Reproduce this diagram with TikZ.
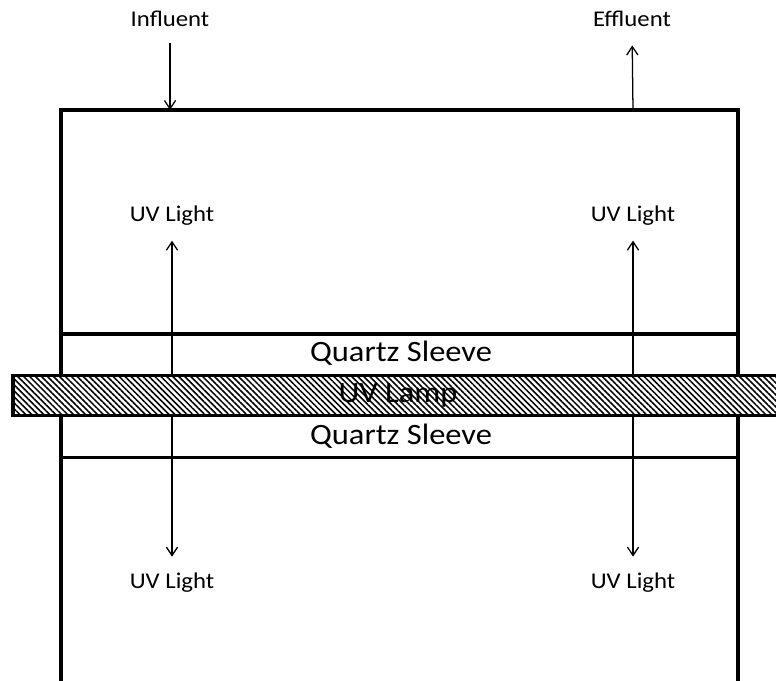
\documentclass[tikz,border=0pt]{standalone}
\usepackage{fontspec}
\setmainfont{Carlito}[FakeStretch=1.1]
\usetikzlibrary{arrows.meta,patterns.meta}

\tikzset{
  wall/.style={line width=2.5pt},
  ray/.style={line width=0.9pt, -{Straight Barb[length=6pt,width=8pt]}},
  tag/.style={font=\fontsize{16}{19}\selectfont, anchor=base, inner sep=0pt},
  sleevetag/.style={font=\fontsize{21}{25}\selectfont, anchor=base, inner sep=0pt}
}

\begin{document}
\begin{tikzpicture}[x=0.025cm, y=-0.025cm]
\useasboundingbox (0,0) rectangle (776,681);

% reactor vessel and quartz sleeve
\draw[wall] (61,110) rectangle (738,682.5);
\draw[wall] (61,334) -- (738,334);
\draw[wall] (61,457.5) -- (738,457.5);

\coordinate (inlet) at (170,110);
\coordinate (outlet) at (633,110);
\coordinate (lampL) at (172,395);
\coordinate (lampR) at (633,395);

\node[tag] (influent) at (170,27) {Influent};
\node[tag] (effluent) at (632,27) {Effluent};
\node[tag] (uvtl) at (172,222) {UV Light};
\node[tag] (uvtr) at (633,222) {UV Light};
\node[tag] (uvbl) at (172,588) {UV Light};
\node[tag] (uvbr) at (633,588) {UV Light};

\draw[ray, shorten <=11.4pt] (influent.south) -- (inlet);
\draw[ray, shorten >=12.8pt] (outlet) -- (effluent.south);

% light from the lamp
\draw[ray, shorten >=10.3pt] (lampL) -- (uvtl.south);
\draw[ray, shorten >=10.3pt] (lampR) -- (uvtr.south);
\draw[ray, shorten >=11pt] (lampL) -- (uvbl.north);
\draw[ray, shorten >=11pt] (lampR) -- (uvbr.north);

% lamp
\fill[white] (13,375.5) rectangle (800,415.5);
\fill[pattern={Lines[angle=-45,distance=3pt,line width=1.1pt]}] (13,375.5) rectangle (800,415.5);
\draw[wall] (800,375.5) -- (13,375.5) -- (13,415.5) -- (800,415.5);

\node[sleevetag] (sleevetop) at (401,361.5) {Quartz Sleeve};
\node[sleevetag] (lamptxt) at (398,403) {UV Lamp};
\node[sleevetag] (sleevebot) at (401,444) {Quartz Sleeve};
\end{tikzpicture}
\end{document}
